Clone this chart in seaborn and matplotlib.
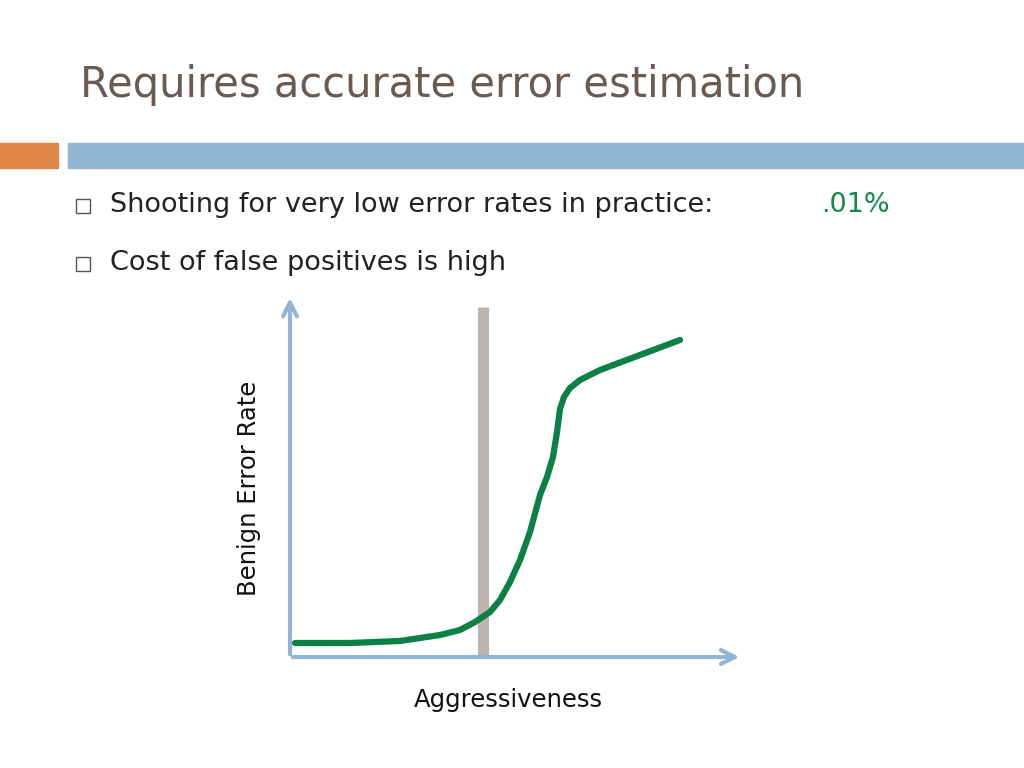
import matplotlib
matplotlib.use("Agg")
import matplotlib.pyplot as plt
import seaborn as sns
import pandas as pd
from matplotlib.patches import Rectangle

sns.set_style("white")
plt.rcParams['font.family'] = ['DejaVu Sans']

# curve values (aggressiveness, benign error rate)
aggr = [5, 60, 110, 150, 170, 185, 200, 210, 220, 230, 240, 250, 257, 263, 267, 270, 274, 280, 290, 310, 350, 390]
err = [14, 14, 16, 22, 27, 35, 45, 57, 75, 97, 125, 162, 180, 200, 225, 248, 260, 269, 277, 287, 302, 317]
threshold_x = 193
threshold_top = 350

W, H = 1024, 768
fig = plt.figure(figsize=(10.24, 7.68), dpi=100)
fig.patch.set_facecolor('white')

fig.text(80/W, 1-85/H, "Requires accurate error estimation", fontsize=30,
         color='#6b5a50', va='center', ha='left')
fig.patches.append(Rectangle((0, 1-168/H), 58/W, 25/H, transform=fig.transFigure,
                             color='#e0874a', figure=fig))
fig.patches.append(Rectangle((68/W, 1-168/H), 1-68/W, 25/H, transform=fig.transFigure,
                             color='#93b5d5', figure=fig))

for yy, txt in [(205, "Shooting for very low error rates in practice: "),
                (263, "Cost of false positives is high")]:
    fig.patches.append(Rectangle((76/W, 1-(yy+8)/H), 14/W, 14/H, transform=fig.transFigure,
                                 fill=False, edgecolor='#555555', lw=1, figure=fig))
    fig.text(110/W, 1-yy/H, txt, fontsize=19.5, color='#222222', va='center', ha='left')
fig.text(821/W, 1-205/H, ".01%", fontsize=19.5, color='#138a4a', va='center', ha='left')

ax = fig.add_axes([290/W, 1-657/H, 450/W, 362/H])
df = pd.DataFrame({'x': aggr, 'y': err})
ax.plot([threshold_x, threshold_x], [0, threshold_top], color='#bdb5ad', lw=8, solid_capstyle='butt')
sns.lineplot(data=df, x='x', y='y', ax=ax, color='#0b8145', lw=4.5, sort=False)
ax.set_xlim(0, 450)
ax.set_ylim(0, 362)
for s in ax.spines.values():
    s.set_visible(False)
ax.set_xticks([]); ax.set_yticks([])
ax.set_xlabel(""); ax.set_ylabel("")
arrow = dict(arrowstyle='->', color='#93b5d5', lw=3, mutation_scale=25)
ax.annotate("", xy=(1.005, 0), xytext=(0, 0), xycoords='axes fraction', arrowprops=arrow, annotation_clip=False)
ax.annotate("", xy=(0, 1.0), xytext=(0, 0), xycoords='axes fraction', arrowprops=arrow, annotation_clip=False)

fig.text(508/W, 1-700/H, "Aggressiveness", fontsize=17.5, color='#111111', ha='center', va='center')
fig.text(249/W, 1-488/H, "Benign Error Rate", fontsize=17.5, color='#111111', ha='center',
         va='center', rotation=90)

fig.savefig("out.png", dpi=100)
